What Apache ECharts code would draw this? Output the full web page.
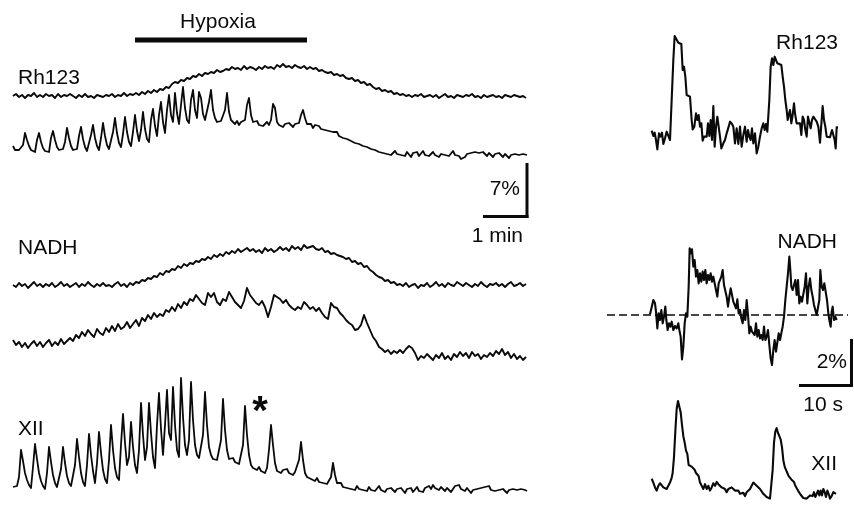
<!DOCTYPE html>
<html lang="en">
<head>
<meta charset="UTF-8" />
<title>Rh123, NADH and XII during hypoxia</title>
<script src="https://cdn.jsdelivr.net/npm/echarts@6/dist/echarts.min.js"></script>
<style>
  html, body { margin: 0; padding: 0; background: #fff; }
  #chart { width: 854px; height: 505px; }
</style>
</head>
<body>
<div id="chart"></div>
<script>
// left: slow recordings, one value per sample (signal in a.u., 7% = 52 a.u.)
// time axis: 1 min = 44 units
const rhSlow = [
  4,6,3,5,2,5,4,7,3,5, 3,6,4,5,2,6,3,5,4,6, 4,2,5,3,6,3,4,2,5,4, 3,5,4,6,3,5,4,7,4,6,
  5,7,5,8,6,9,7,10,8,11, 10,13,12,16,18,17,20,19,22,21, 24,23,26,24,27,26,28,27,30,28,
  29,31,30,33,31,32,30,34,31,33, 32,30,33,31,34,32,33,31,35,33, 36,33,34,32,35,33,32,34,31,33,
  31,32,29,30,28,27,28,25,26,24, 25,22,21,22,19,20,17,18,15,16, 13,11,12,9,10,8,9,6,7,5,
  6,4,5,3,5,4,6,3,4,5, 3,5,2,4,6,3,4,2,5,4, 3,5,4,6,3,4,2,5,3,4, 5,3,4,2,5,4,3,5,4,3,4,2
];
const rhOsc = [
  14,10,8,10,9,15,27,20,14,10, 12,8,20,27,18,12,9,11,8,22, 29,20,13,10,8,11,18,32,22,14,
  10,8,11,24,33,21,13,9,11,25, 35,22,14,10,22,37,24,15,11,13, 28,42,27,17,13,26,43,28,18,14,
  28,45,29,19,30,48,31,21,18,40, 51,34,24,45,58,38,27,50,65,45, 38,67,47,36,55,73,52,40,37,60,
  70,50,42,68,62,46,40,38,58,70, 50,42,38,36,39,37,50,67,48,40, 38,36,39,35,38,36,40,55,62,45,
  38,36,39,35,37,34,36,38,35,40, 56,52,38,35,37,33,36,34,37,35, 33,36,34,37,45,50,42,36,34,36,
  32,35,33,34,31,33,30,32,29,31, 28,27,28,24,25,22,24,21,22,19, 20,17,19,16,17,14,16,13,14,11,
  12,10,11,8,10,7,9,6,8,5, 7,9,6,8,5,7,4,8,6,3, 7,5,8,4,6,9,5,7,4,6,
  8,5,7,3,6,8,5,7,4,6, 9,5,7,4,1,-1,3,6,4,7, 5,8,6,7,5,8,6,4,7,5,
  3,6,4,7,5,3,6,4,2,5, 3,6,4,5,3,6,4,5
];
const nadhSlow = [
  5,3,7,4,6,2,5,8,4,6, 3,6,4,7,3,5,8,4,6,3, 5,7,3,6,4,8,5,3,6,4, 7,4,5,3,6,8,4,6,3,7,
  5,8,7,10,9,12,11,14,13,17, 15,19,18,21,20,24,22,26,24,27, 26,29,28,31,30,33,31,35,33,36,
  34,38,36,39,37,41,38,40,42,39, 41,38,40,37,42,39,41,38,40,43, 40,42,39,44,41,43,40,45,42,43,
  44,41,40,42,38,39,36,37,35,34, 33,31,32,28,29,26,27,23,24,20, 18,15,13,12,9,10,7,8,5,6,
  4,7,3,5,6,2,5,4,7,3, 5,8,4,6,3,7,5,4,8,6, 4,7,5,3,6,4,8,5,3,6, 5,7,4,6,3,6,8,4,5,7,4,6
];
const nadhOsc = [
  25,20,23,18,22,17,21,24,19,23, 18,22,25,19,23,20,26,21,24,27, 24,30,27,33,29,35,31,28,36,32,
  30,37,33,39,34,41,36,38,43,37, 41,45,39,47,44,50,46,52,48,51, 49,55,53,58,54,61,57,63,60,66,
  64,70,66,62,60,72,68,72,63,60, 66,64,73,68,63,60,57,64,77,70, 66,62,60,64,58,48,58,70,68,66,
  62,65,60,57,55,58,56,63,60,56, 58,54,57,52,48,46,62,58,57,52, 49,45,42,40,35,36,40,50,42,35,
  28,24,18,16,13,15,11,14,12,15, 12,16,19,17,12,5,9,7,11,8, 5,10,7,12,6,9,5,11,8,13,
  9,12,7,13,9,11,6,10,8,12, 9,14,11,16,10,13,7,11,6,9,5,8
];
const xiiSlow = [
  8,6,9,18,45,34,22,15,10,7, 28,51,36,22,14,9,6,22,48,33, 20,12,8,10,26,48,32,19,12,9,
  7,30,56,38,22,13,9,30,61,40, 24,12,32,63,42,25,16,12,35,70, 45,27,18,15,50,81,52,30,38,73,
  48,30,22,45,92,60,35,48,92,62, 38,27,70,102,66,40,70,105,62,55, 108,70,45,38,117,78,50,40,55,113,
  75,50,40,37,35,60,103,70,48,40, 36,38,35,37,55,96,65,45,36,34, 37,33,35,31,33,50,89,60,40,30,
  27,29,25,28,24,26,22,27,45,70, 50,32,24,26,22,25,23,26,22,24, 20,23,21,35,53,35,22,18,20,16,
  18,14,17,13,15,12,14,11,13,18, 32,20,12,10,12,8,10,7,9,6, 8,5,9,6,8,5,7,4,8,5,
  7,4,6,9,5,7,3,6,4,7, 5,3,6,4,7,5,2,6,4,7, 3,5,8,4,6,3,7,5,9,6,
  10,7,9,5,8,6,4,7,5,3, 6,9,7,10,6,8,4,7,5,2, 5,3,6,4,7,5,8,6,9,5,
  7,4,2,5,3,6,4,2,5,3, 6,4,5,3,6,4,5,4
];
const hypoxiaWindow = [122, 294];

// right: expanded sweeps, [time, signal] pairs (10 s = 156 time units)
const rhFast = [
  [5,73],[10,57],[14,67],[18,45],[22,17],[27,65],[32,55],[36,67],[40,33],[45,50],[50,70],[55,75],
  [60,45],[65,165],[70,285],[74,357],[80,355],[85,337],[90,335],[94,333],[98,255],[102,265],[106,235],
  [110,180],[115,180],[120,175],[125,105],[128,77],[133,85],[138,125],[142,105],[146,120],[150,85],
  [154,95],[158,43],[162,55],[166,50],[170,55],[174,95],[178,57],[182,105],[186,45],[190,147],[194,25],
  [198,85],[202,115],[206,120],[210,55],[214,20],[220,35],[225,45],[230,65],[236,85],[240,100],[246,93],
  [250,85],[255,35],[260,80],[265,33],[270,85],[275,25],[280,60],[285,85],[290,40],[294,75],[298,55],
  [302,45],[306,80],[310,35],[315,65],[320,5],[325,25],[330,55],[335,80],[340,95],[344,75],[348,93],
  [352,70],[358,165],[362,265],[366,290],[370,270],[374,295],[378,290],[382,275],[388,280],[394,270],
  [398,235],[402,205],[406,165],[410,135],[413,105],[416,120],[420,135],[424,95],[428,120],[432,155],
  [435,125],[440,95],[445,93],[450,95],[454,60],[458,115],[462,105],[466,75],[470,55],[474,115],
  [478,110],[482,80],[486,105],[490,115],[495,113],[500,100],[505,85],[510,37],[514,40],[518,147],
  [522,105],[526,85],[530,55],[535,55],[540,53],[546,75],[550,70],[554,45],[557,20],[560,83],[564,83]
];
const nadhFast = [
  [0,0],[5,21],[10,43],[15,33],[18,8],[22,-42],[26,3],[30,-17],[34,13],[38,-27],[42,-7],[46,23],
  [49,-17],[53,-47],[57,-27],[61,-37],[65,-22],[70,-47],[75,-35],[80,-42],[85,-27],[88,-47],[92,-67],
  [96,-135],[100,-97],[104,-27],[108,3],[112,-7],[116,83],[119,198],[123,183],[126,195],[130,143],
  [134,163],[138,113],[142,133],[146,93],[150,123],[154,98],[158,128],[162,103],[166,133],[170,93],
  [174,118],[178,103],[182,123],[186,98],[190,113],[194,108],[198,73],[202,53],[206,93],[210,98],
  [214,113],[218,133],[222,88],[226,93],[230,53],[234,23],[238,53],[242,78],[246,58],[250,38],[254,43],
  [258,18],[262,45],[266,3],[270,13],[274,-12],[278,-27],[282,13],[286,-17],[290,43],[294,-2],[298,-57],
  [302,-37],[306,-52],[310,-47],[314,-62],[318,-27],[322,-67],[326,-47],[330,-72],[334,-62],[338,-77],
  [342,-37],[346,-77],[350,-67],[354,-47],[358,-92],[362,-132],[366,-152],[370,-107],[374,-77],
  [378,-112],[382,-117],[386,-57],[390,-77],[394,-57],[398,-37],[402,-7],[406,43],[410,83],[414,123],
  [418,173],[421,133],[424,83],[428,73],[432,88],[436,103],[440,58],[444,103],[448,33],[452,53],[456,38],
  [460,43],[464,83],[468,123],[472,33],[476,83],[480,108],[484,73],[488,53],[492,28],[496,33],[500,-2],
  [504,3],[508,43],[511,133],[515,83],[519,73],[523,93],[527,88],[531,43],[535,3],[538,-17],[542,-37],
  [545,8],[548,23],[552,-17],[556,-7],[560,-17]
];
const xiiFast = [
  [5,67],[10,55],[15,40],[20,30],[25,45],[30,53],[35,50],[40,40],[45,45],[50,35],[55,30],[60,55],
  [65,70],[68,85],[72,135],[76,215],[80,285],[84,310],[88,305],[92,275],[96,235],[100,200],[104,180],
  [108,155],[112,145],[116,110],[120,110],[125,105],[130,107],[134,95],[138,85],[142,90],[146,75],
  [150,55],[155,50],[160,35],[165,50],[170,35],[175,45],[180,30],[185,40],[190,53],[195,45],[200,57],
  [205,50],[210,55],[215,40],[220,45],[225,35],[230,25],[235,35],[240,30],[245,40],[250,45],[255,30],
  [260,25],[265,30],[270,20],[275,25],[280,23],[285,13],[290,25],[295,27],[300,35],[305,45],[310,55],
  [315,57],[320,45],[325,50],[330,35],[335,30],[340,20],[345,15],[350,10],[355,7],[360,5],[364,5],
  [368,95],[372,180],[376,215],[380,225],[384,210],[388,200],[392,190],[396,165],[400,125],[404,105],
  [408,95],[412,85],[416,75],[420,80],[424,65],[428,60],[432,57],[436,45],[440,40],[444,30],[448,25],
  [452,17],[456,15],[460,7],[464,3],[470,5],[475,7],[480,15],[484,20],[488,13],[492,25],[496,10],
  [500,20],[504,30],[508,15],[512,30],[516,15],[520,35],[524,25],[528,10],[532,30],[536,20],[540,5],
  [545,13],[550,25],[555,30],[558,20]
];

function sampled(values, step) {
  return values.map((v, i) => [i * step, v]);
}

const ink = '#0a0a0a';

// one hidden grid per trace, stacked like the original figure
const panels = [
  { data: [[hypoxiaWindow[0], 0.5], [hypoxiaWindow[1], 0.5]], width: 5, left: 13, w: 515, xMin: 0, xMax: 515, top: 30, h: 20, yMin: 0, yMax: 1 },
  { data: sampled(rhSlow, 3), width: 1.9, left: 13, w: 515, xMin: 0, xMax: 515, top: 50, h: 60, yMin: -10, yMax: 50 },
  { data: sampled(rhOsc, 2), width: 1.8, left: 13, w: 515, xMin: 0, xMax: 515, top: 80, h: 90, yMin: -10, yMax: 80 },
  { data: sampled(nadhSlow, 3), width: 1.9, left: 13, w: 515, xMin: 0, xMax: 515, top: 230, h: 70, yMin: -10, yMax: 60 },
  { data: sampled(nadhOsc, 3), width: 1.9, left: 13, w: 515, xMin: 0, xMax: 515, top: 275, h: 100, yMin: -10, yMax: 90 },
  { data: sampled(xiiSlow, 2), width: 1.8, left: 13, w: 515, xMin: 0, xMax: 515, top: 365, h: 140, yMin: -10, yMax: 130 },
  { data: rhFast, width: 2.1, left: 650, w: 200, xMin: 0, xMax: 600, top: 15, h: 150, yMin: -30, yMax: 420 },
  { data: nadhFast, width: 2.1, left: 607, w: 241, xMin: -129, xMax: 594, top: 234.33, h: 140, yMin: -180, yMax: 240, zero: true },
  { data: xiiFast, width: 2.1, left: 650, w: 200, xMin: 0, xMax: 600, top: 385, h: 125, yMin: -15, yMax: 360 }
];

const chart = echarts.init(document.getElementById('chart'), null, { renderer: 'canvas' });

function txt(text, x, y, align, size, weight) {
  return {
    type: 'text', x: x, y: y, silent: true,
    style: {
      text: text, fill: ink,
      font: (weight || 'normal') + ' ' + (size || 21) + 'px "Liberation Sans", Arial, sans-serif',
      textAlign: align || 'left', textVerticalAlign: 'middle',
      align: align || 'left', verticalAlign: 'middle'
    }
  };
}
function bar(x1, y1, x2, y2) {
  return { type: 'line', silent: true, shape: { x1: x1, y1: y1, x2: x2, y2: y2 }, style: { stroke: ink, lineWidth: 3 } };
}

chart.setOption({
  animation: false,
  backgroundColor: '#fff',
  grid: panels.map(p => ({ left: p.left, top: p.top, width: p.w, height: p.h, show: false })),
  xAxis: panels.map((p, i) => ({ type: 'value', gridIndex: i, min: p.xMin, max: p.xMax, show: false })),
  yAxis: panels.map((p, i) => ({ type: 'value', gridIndex: i, min: p.yMin, max: p.yMax, show: false })),
  series: panels.map((p, i) => ({
    type: 'line',
    xAxisIndex: i,
    yAxisIndex: i,
    data: p.data,
    symbol: 'none',
    silent: true,
    lineStyle: { color: ink, width: p.width, join: 'round' },
    markLine: p.zero ? {
      symbol: 'none', silent: true, label: { show: false },
      lineStyle: { color: ink, width: 1.5, type: [8, 4] },
      data: [{ yAxis: 0 }]
    } : undefined
  })),
  graphic: [
    txt('Hypoxia', 218, 22, 'center'),
    txt('Rh123', 18, 78),
    txt('NADH', 18, 248),
    txt('XII', 18, 429),
    txt('*', 260, 413, 'center', 40, 'bold'),
    txt('7%', 520, 189, 'right'),
    txt('1 min', 523, 236, 'right'),
    bar(527, 163, 527, 218),
    bar(483, 216.5, 528.5, 216.5),
    txt('Rh123', 838, 43, 'right'),
    txt('NADH', 837, 242, 'right'),
    txt('2%', 847, 362, 'right'),
    txt('10 s', 843, 405, 'right'),
    txt('XII', 837, 464, 'right'),
    bar(851.5, 339, 851.5, 387),
    bar(799, 385.5, 853, 385.5)
  ]
});
</script>
</body>
</html>
